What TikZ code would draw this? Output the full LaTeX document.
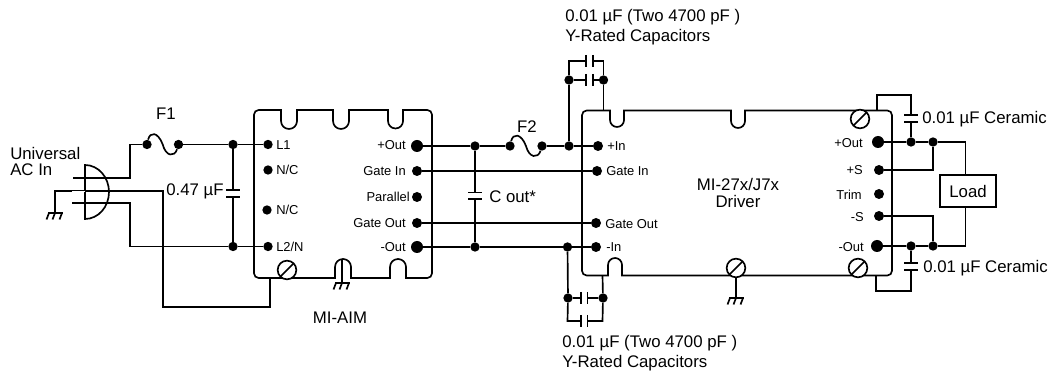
\documentclass[tikz,border=0pt]{standalone}
\usepackage{fontspec}
\setmainfont{Liberation Sans}
\usetikzlibrary{calc}
\tikzset{
    wire/.style={line width=1.25pt},
    jdot/.style={circle, fill=black, inner sep=0pt, minimum size=7pt},
    pindot/.style={circle, fill=black, inner sep=0pt, minimum size=7.5pt},
    bigdot/.style={circle, fill=black, inner sep=0pt, minimum size=9pt},
    vcap/.style={inner sep=0pt, outer sep=0pt, minimum width=10.5pt, minimum height=5pt},
    hcap/.style={inner sep=0pt, outer sep=0pt, minimum width=5pt, minimum height=9pt},
    screwhead/.style={circle, draw, fill=white, line width=1.25pt, inner sep=0pt, minimum size=14pt,
        path picture={\draw[wire] (path picture bounding box.south west) -- (path picture bounding box.north east);}},
    biglabel/.style={inner sep=0pt, font=\fontsize{12.6}{15}\selectfont, align=left},
    pinlabel/.style={inner sep=0pt, font=\fontsize{9.7}{11}\selectfont},
}
\newcommand{\capv}[3]{%
    \node[vcap] (#1) at (#2,#3) {};
    \draw[wire] (#1.north west) -- (#1.north east) (#1.south west) -- (#1.south east);}
\newcommand{\caph}[3]{%
    \node[hcap] (#1) at (#2,#3) {};
    \draw[wire] (#1.north west) -- (#1.south west) (#1.north east) -- (#1.south east);}
\newcommand{\groundsym}[1]{%
    \draw[wire] ($(#1)+(-7,0)$) -- ($(#1)+(8,0)$);
    \foreach \dx in {-6,0,7} {\draw[wire] ($(#1)+(\dx,0)$) -- ($(#1)+(\dx-2.5,6.5)$);}}
\newcommand{\fusewave}[2]{%
    \draw[wire] (#1) .. controls +(3,-13) and +(-5,-13) .. ($(#1)!.5!(#2)$) .. controls +(3,12) and +(-4,13) .. (#2);}
\begin{document}
\begin{tikzpicture}[x=0.75pt, y=-0.75pt]
    \useasboundingbox (0,0) rectangle (1052,373);

    % AC plug
    \draw[wire] (85,165) arc[x radius=24, y radius=27, start angle=-90, end angle=90] -- cycle;
    \coordinate (plugA) at (73,178);
    \coordinate (plugG) at (72,191);
    \coordinate (plugGin) at (85,191);
    \coordinate (plugN) at (72,203);
    \coordinate (plugAup) at (130,178);
    \coordinate (plugNdown) at (130,246.5);
    \coordinate (earthwire) at (55,191);
    \coordinate (earth) at (55,213);
    \coordinate (chassisturn) at (163,191);
    \coordinate (chassislow) at (163,307);
    \coordinate (aimtap) at (270,278);
    \coordinate (aimtaplow) at (270,307);
    \node[biglabel, anchor=west] (universal) at (10,161.5) {Universal\\[-2.5pt]AC In};

    % Input side
    \node[jdot] (f1a) at (147,144.5) {};
    \node[jdot] (f1b) at (178.5,144.5) {};
    \node[jdot] (inL) at (233,144.5) {};
    \node[jdot] (inN) at (233,246.5) {};
    \node[biglabel] (f1) at (166,114) {F1};
    \capv{cinput}{233}{193.5}
    \node[biglabel, anchor=west] (cinputlabel) at (166,191) {0.47 µF};
    \fusewave{f1a}{f1b}

    % MI-AIM module
    \draw[wire] (254,190) [rounded corners=3.5pt] -- (254,110) [sharp corners] -- (281,110) -- (281,121) arc (180:0:8) -- (297,110)
        -- (333,110) -- (333,121) arc (180:0:8) -- (349,110)
        -- (388,110) -- (388,121) arc (180:0:7.5) -- (403,110)
        [rounded corners=3.5pt] -- (432,110) -- (432,278) [sharp corners] -- (406,278) -- (406,267) arc (0:-180:8) -- (390,278)
        -- (351,278) -- (351,267) arc (0:-180:8) -- (335,278) [rounded corners=3.5pt] -- (254,278) -- (254,190);
    \node[screwhead] (aimscrew) at (287,270) {};
    \node[jdot] (aimL1) at (268,144.5) {};
    \node[jdot] (aimNC1) at (268,170) {};
    \node[jdot] (aimNC2) at (267,210) {};
    \node[jdot] (aimL2) at (268,246.5) {};
    \node[bigdot] (aimOutP) at (417,146) {};
    \node[pindot] (aimGateIn) at (417,171) {};
    \node[pindot] (aimPar) at (417,197) {};
    \node[pindot] (aimGateOut) at (417,223) {};
    \node[bigdot] (aimOutN) at (417,247) {};
    \node[pinlabel, anchor=west] (l1text) at (276,145) {L1};
    \node[pinlabel, anchor=west] (nc1text) at (276,170) {N/C};
    \node[pinlabel, anchor=west] (nc2text) at (276,210) {N/C};
    \node[pinlabel, anchor=west] (l2text) at (276,247) {L2/N};
    \node[pinlabel, anchor=east] (outptext) at (406,145) {+Out};
    \node[pinlabel, anchor=east] (gitext) at (406,171) {Gate In};
    \node[pinlabel, anchor=east] (partext) at (410,197) {Parallel};
    \node[pinlabel, anchor=east] (gotext) at (406,223) {Gate Out};
    \node[pinlabel, anchor=east] (outntext) at (406,247) {-Out};
    \node[biglabel] (aimname) at (340,318) {MI-AIM};
    \coordinate (aimgndtop) at (342,259);
    \coordinate (aimgnd) at (342,283);
    \groundsym{aimgnd}

    % Output capacitor and F2
    \node[jdot] (coutP) at (475,146) {};
    \node[jdot] (coutN) at (475,247) {};
    \capv{cout}{475}{196}
    \node[biglabel, anchor=west] (coutlabel) at (489,197) {C out*};
    \node[jdot] (f2a) at (510,146) {};
    \node[jdot] (f2b) at (542,146) {};
    \node[biglabel] (f2) at (527,127) {F2};
    \fusewave{f2a}{f2b}

    % MI-27x/J7x driver
    \draw[wire] (582,190) [rounded corners=3.5pt] -- (582,110.5) [sharp corners] -- (610,110.5) -- (610,120) arc (180:0:7) -- (624,110.5)
        -- (731,110.5) -- (731,121) arc (180:0:7) -- (745,110.5)
        [rounded corners=3.5pt] -- (892,110.5) -- (892,275.5) [sharp corners] -- (622,275.5) -- (622,265) arc (0:-180:7) -- (608,275.5) [rounded corners=3.5pt] -- (582,275.5) -- (582,190);
    \node[screwhead] (topscrew) at (860,119) {};
    \node[screwhead] (lowscrew) at (858,268) {};
    \node[screwhead] (midscrew) at (736,268) {};
    \node[pindot] (drvInP) at (598,146) {};
    \node[pindot] (drvGateIn) at (597,171) {};
    \node[pindot] (drvGateOut) at (596,223) {};
    \node[pindot] (drvInN) at (596,247) {};
    \node[bigdot] (drvOutP) at (878,142) {};
    \node[pindot] (drvSP) at (879,170) {};
    \node[pindot] (drvTrim) at (879,194) {};
    \node[pindot] (drvSN) at (879,216) {};
    \node[bigdot] (drvOutN) at (877,246) {};
    \node[pinlabel, anchor=west] (intext) at (607,146) {+In};
    \node[pinlabel, anchor=west] (dgitext) at (606,171) {Gate In};
    \node[pinlabel, anchor=west] (dgotext) at (605,224) {Gate Out};
    \node[pinlabel, anchor=west] (inntext) at (606,247) {-In};
    \node[pinlabel, anchor=east] (doptext) at (863,143) {+Out};
    \node[pinlabel, anchor=east] (sptext) at (863,170) {+S};
    \node[pinlabel, anchor=east] (trimtext) at (862,195) {Trim};
    \node[pinlabel, anchor=east] (sntext) at (864,217) {-S};
    \node[pinlabel, anchor=east] (dontext) at (864,247) {-Out};
    \node[biglabel, align=center] (drvname) at (738,193) {MI-27x/J7x\\[-2.5pt]Driver};
    \coordinate (drvgnd) at (736,298);
    \groundsym{drvgnd}

    % Y-rated capacitors, top
    \node[jdot] (ytopL) at (569,146) {};
    \node[jdot] (yaL) at (569,80) {};
    \node[jdot] (yaR) at (603.5,80) {};
    \coordinate (ybL) at (569,61);
    \coordinate (ybR) at (603.5,61);
    \coordinate (ytopbox) at (603.5,110.5);
    \caph{ya}{589.5}{80}
    \caph{yb}{589.5}{61}
    \node[biglabel, anchor=west] (ytoplabel) at (565,27.5) {0.01 µF (Two 4700 pF )\\Y-Rated Capacitors};

    % Y-rated capacitors, bottom
    \node[jdot] (ylowL) at (567.5,247) {};
    \node[jdot] (ycL) at (568,298) {};
    \node[jdot] (ycR) at (603,298) {};
    \coordinate (ydL) at (567.5,321);
    \coordinate (ydR) at (602.5,321);
    \coordinate (ylowbox) at (602.5,275.5);
    \caph{yc}{584}{298}
    \caph{yd}{584}{321}
    \node[biglabel, anchor=west] (ylowlabel) at (562,353.5) {0.01 µF (Two 4700 pF )\\Y-Rated Capacitors};

    % Load and ceramic capacitors
    \node[draw, line width=1.25pt, inner sep=0pt, minimum width=42pt, minimum height=24pt, font=\fontsize{12.6}{15}\selectfont] (load) at (968,191) {Load};
    \node[jdot] (ceramP) at (911,142) {};
    \node[jdot] (senseP) at (933,142) {};
    \node[jdot] (ceramN) at (911,246) {};
    \node[jdot] (senseN) at (933,246) {};
    \coordinate (loadtop) at (965.5,175);
    \coordinate (loadlow) at (965.5,207);
    \coordinate (topbox) at (877,110.5);
    \coordinate (topup) at (877,95);
    \coordinate (topover) at (911,95);
    \coordinate (lowbox) at (876,275.5);
    \coordinate (lowdown) at (876,291);
    \coordinate (lowover) at (911,291);
    \capv{cetop}{911}{118.5}
    \capv{celow}{911}{266.5}
    \node[biglabel, anchor=west] (cetoplabel) at (922,119) {0.01 µF Ceramic};
    \node[biglabel, anchor=west] (celowlabel) at (923,268) {0.01 µF Ceramic};

    % Connecting wires
    \draw[wire] (plugA) -- (plugAup) |- (f1a);
    \draw[wire] (plugN) -| (plugNdown) -- (inN);
    \draw[wire, line width=.7pt, double, double distance=.6pt, line cap=round] (plugG) -- (plugGin);
    \draw[wire] (plugG) -- (earthwire) -- (earth);
    \groundsym{earth}
    \draw[wire] (plugGin) -- (chassisturn) -- (chassislow) -- (aimtaplow) -- (aimtap);
    \draw[wire] (f1b) -- (inL);
    \draw[wire] (inL) -- (aimL1);
    \draw[wire] (inN) -- (aimL2);
    \draw[wire] (inL) -- (cinput);
    \draw[wire] (cinput) -- (inN);
    \draw[wire] (aimgndtop) -- (aimgnd);
    \draw[wire] (aimOutP) -- (coutP);
    \draw[wire] (coutP) -- (f2a);
    \draw[wire] (aimOutN) -- (coutN);
    \draw[wire] (coutN) -- (ylowL);
    \draw[wire] (ylowL) -- (drvInN);
    \draw[wire] (coutP) -- (cout);
    \draw[wire] (cout) -- (coutN);
    \draw[wire] (aimGateIn) -- (drvGateIn);
    \draw[wire] (aimGateOut) -- (drvGateOut);
    \draw[wire] (f2b) -- (ytopL);
    \draw[wire] (ytopL) -- (drvInP);
    \draw[wire] (ytopL) -- (yaL);
    \draw[wire] (yaL) -- (ybL) -- (yb);
    \draw[wire] (yb) -- (ybR) -- (yaR);
    \draw[wire] (yaL) -- (ya);
    \draw[wire] (ya) -- (yaR);
    \draw[wire] (yaR) -- (ytopbox);
    \draw[wire] (ylowL) -- (ycL);
    \draw[wire] (ycL) -- (ydL) -- (yd);
    \draw[wire] (yd) -- (ydR) -- (ycR);
    \draw[wire] (ycL) -- (yc);
    \draw[wire] (yc) -- (ycR);
    \draw[wire] (ycR) -- (ylowbox);
    \draw[wire] (midscrew) -- (drvgnd);
    \draw[wire] (drvOutP) -- (ceramP);
    \draw[wire] (ceramP) -- (senseP);
    \draw[wire] (senseP) -| (loadtop);
    \draw[wire] (drvSP) -| (senseP);
    \draw[wire] (drvOutN) -- (ceramN);
    \draw[wire] (ceramN) -- (senseN);
    \draw[wire] (senseN) -| (loadlow);
    \draw[wire] (drvSN) -| (senseN);
    \draw[wire] (topbox) -- (topup) -- (topover) -- (cetop);
    \draw[wire] (cetop) -- (ceramP);
    \draw[wire] (lowbox) -- (lowdown) -- (lowover) -- (celow);
    \draw[wire] (celow) -- (ceramN);
\end{tikzpicture}
\end{document}
